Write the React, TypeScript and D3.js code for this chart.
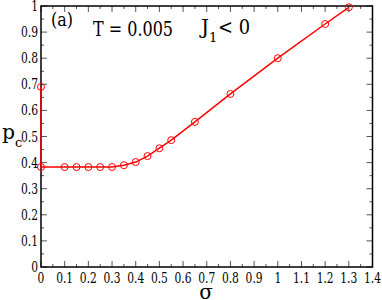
import * as d3 from 'd3'

const sigma = [0, 0, 0.1, 0.15, 0.2, 0.25, 0.3, 0.35, 0.4, 0.45, 0.5, 0.55, 0.65, 0.8, 1.0, 1.2, 1.3]
const pc = [0.69, 0.383, 0.383, 0.383, 0.383, 0.383, 0.383, 0.39, 0.402, 0.425, 0.455, 0.486, 0.556, 0.663, 0.8, 0.931, 0.995]

const xTicks = [0, 0.1, 0.2, 0.3, 0.4, 0.5, 0.6, 0.7, 0.8, 0.9, 1, 1.1, 1.2, 1.3, 1.4]
const yTicks = [0, 0.1, 0.2, 0.3, 0.4, 0.5, 0.6, 0.7, 0.8, 0.9, 1]

const width = 382
const height = 300
const left = 41
const right = 372.5
const top = 6
const bottom = 267
const font = "'DejaVu Serif'"

// narrow the wide serif down to times-like widths
const labelLen = (s: string) => s.replace('.', '').length * 6.8 + (s.includes('.') ? 3.4 : 0)

const App = () => {
  const x = d3.scaleLinear().domain([0, 1.4]).range([left, right])
  const y = d3.scaleLinear().domain([0, 1]).range([bottom, top])
  const pts = sigma.map((s, i) => [s, pc[i]] as [number, number])
  const line = d3.line<[number, number]>().x((d) => x(d[0])).y((d) => y(d[1]))

  const xMinor = d3.range(0, 29).map((i) => i * 0.05)
  const yMinor = d3.range(0, 21).map((i) => i * 0.05)

  return (
    <svg width={width} height={height} style={{ position: 'absolute', left: 0, top: 0 }}>
      <rect width={width} height={height} fill="#fff" />
      {xMinor.map((t, i) => {
        const len = i % 2 === 0 ? 6 : 3
        return (
          <g key={'xt' + i} stroke="#555" strokeWidth={1}>
            <line x1={x(t)} x2={x(t)} y1={bottom} y2={bottom - len} />
            <line x1={x(t)} x2={x(t)} y1={top} y2={top + len} />
          </g>
        )
      })}
      {yMinor.map((t, i) => {
        const len = i % 2 === 0 ? 6 : 3
        return (
          <g key={'yt' + i} stroke="#555" strokeWidth={1}>
            <line x1={left} x2={left + len} y1={y(t)} y2={y(t)} />
            <line x1={right} x2={right - len} y1={y(t)} y2={y(t)} />
          </g>
        )
      })}
      <rect x={left} y={top} width={right - left} height={bottom - top} fill="none" stroke="#000" strokeWidth={1.5} />
      <path d={line(pts) ?? ''} fill="none" stroke="#ff0000" strokeWidth={1.5} />
      {pts.map((d, i) => (
        <circle key={'p' + i} cx={x(d[0])} cy={y(d[1])} r={3.5} fill="none" stroke="#ff0000" strokeWidth={1} />
      ))}
      <g fontFamily={font} fill="#000">
        {xTicks.map((t) => (
          <text key={'xl' + t} x={x(t)} y={bottom + 16} textAnchor="middle" fontSize={14}
            textLength={labelLen(String(t))} lengthAdjust="spacingAndGlyphs">
            {String(t)}
          </text>
        ))}
        {yTicks.map((t) => (
          <text key={'yl' + t} x={left - 3} y={y(t) + 5} textAnchor="end" fontSize={14}
            textLength={labelLen(String(t))} lengthAdjust="spacingAndGlyphs">
            {String(t)}
          </text>
        ))}
        <text x={51} y={26} fontSize={18} textLength={22} lengthAdjust="spacingAndGlyphs">(a)</text>
        <text x={93} y={36} fontSize={20} textLength={80} lengthAdjust="spacingAndGlyphs">T = 0.005</text>
        <text x={201} y={34} fontSize={20}>J</text>
        <text x={209} y={42} fontSize={13}>1</text>
        <text x={218} y={34} fontSize={20} textLength={32} lengthAdjust="spacingAndGlyphs">{'< 0'}</text>
        <text x={2} y={139} fontSize={21} textLength={13} lengthAdjust="spacingAndGlyphs">p</text>
        <text x={15} y={147} fontSize={13}>c</text>
        <text x={206} y={299} textAnchor="middle" fontSize={20}>σ</text>
      </g>
    </svg>
  )
}

export default App
